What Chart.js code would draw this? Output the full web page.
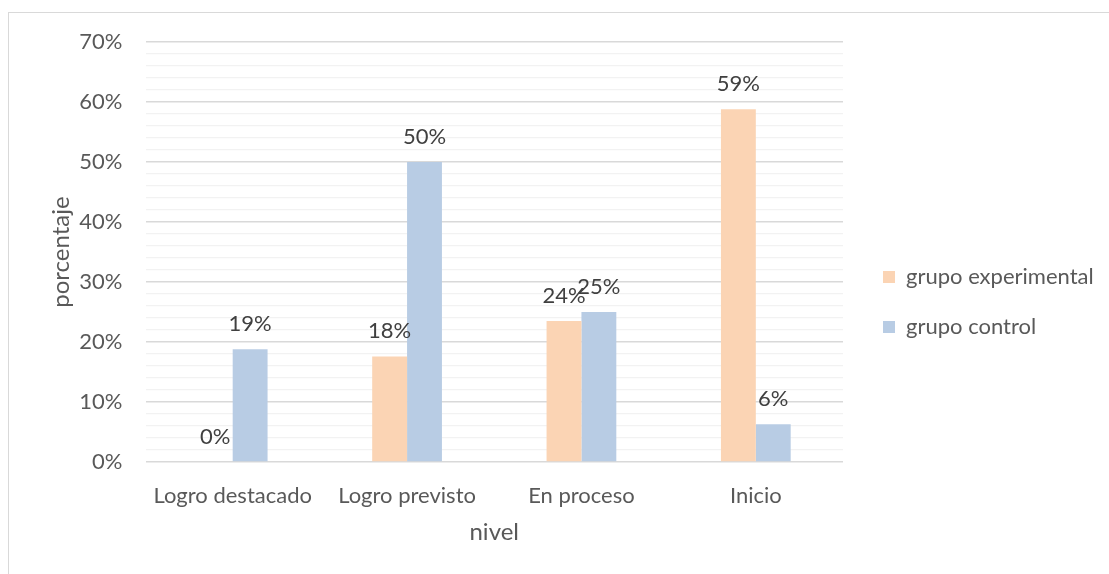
<!DOCTYPE html>
<html lang="es">
<head>
  <meta charset="UTF-8" />
  <title>Nivel por grupo</title>
  <script src="https://cdn.jsdelivr.net/npm/chart.js"></script>
  <style>
    body {
      margin: 0;
      background: #fff;
    }
    #wrap {
      position: relative;
      width: 1109px;
      height: 574px;
      overflow: hidden;
    }
    #frame {
      position: absolute;
      left: 8px;
      top: 12px;
      width: 1300px;
      height: 800px;
      border: 1px solid #d9d9d9;
    }
    canvas {
      position: absolute;
      left: 0;
      top: 0;
    }
  </style>
</head>
<body>
  <div id="wrap">
    <div id="frame"></div>
    <canvas id="chart" width="1109" height="574"></canvas>
  </div>

  <script>
    // categorias y valores (%)
    const niveles = ["Logro destacado", "Logro previsto", "En proceso", "Inicio"];
    const grupoExperimental = [0, 17.6, 23.5, 58.8];
    const grupoControl = [18.8, 50, 25, 6.3];
    const ticksY = [0, 10, 20, 30, 40, 50, 60, 70];

    const FONT = "Lato";

    // etiquetas de valor encima de cada barra
    const etiquetasValor = {
      id: "etiquetasValor",
      afterDatasetsDraw(chart) {
        const ctx = chart.ctx;
        ctx.save();
        ctx.font = "22px " + FONT;
        ctx.fillStyle = "#404040";
        ctx.textAlign = "center";
        ctx.textBaseline = "middle";
        chart.data.datasets.forEach((ds, i) => {
          chart.getDatasetMeta(i).data.forEach((bar, j) => {
            ctx.fillText(Math.round(ds.data[j]) + "%", bar.x, bar.y - 25);
          });
        });
        ctx.restore();
      }
    };

    // leyenda a la derecha con ancho fijo, un poco desplazada
    const leyendaFija = {
      id: "leyendaFija",
      beforeLayout(chart) {
        const lg = chart.legend;
        if (lg && !lg._fijo) {
          const fit = lg.fit;
          lg.fit = function () {
            fit.call(this);
            this.width = 266;
          };
          lg._fijo = true;
        }
      },
      afterLayout(chart) {
        const lg = chart.legend;
        lg.left += 12;
        lg.right += 12;
        lg.top -= 6;
        lg.bottom -= 6;
      }
    };

    new Chart(document.getElementById("chart"), {
      type: "bar",
      data: {
        labels: niveles,
        datasets: [
          {
            label: "grupo experimental",
            data: grupoExperimental,
            backgroundColor: "#FBD4B4",
            borderWidth: 0
          },
          {
            label: "grupo control",
            data: grupoControl,
            backgroundColor: "#B8CCE4",
            borderWidth: 0
          }
        ]
      },
      options: {
        responsive: false,
        animation: false,
        layout: { padding: { top: 42, left: 0, right: 0, bottom: 0 } },
        datasets: {
          bar: { categoryPercentage: 0.4, barPercentage: 1 }
        },
        scales: {
          x: {
            grid: { display: false },
            border: { display: false },
            ticks: {
              color: "#595959",
              font: { family: FONT, size: 22 },
              padding: 13,
              maxRotation: 0
            },
            title: {
              display: true,
              text: "nivel",
              color: "#595959",
              font: { family: FONT, size: 24 },
              padding: { top: 0, bottom: 27 }
            },
            afterFit(scale) {
              scale.height = 112;
            }
          },
          y: {
            min: 0,
            max: 70,
            border: { display: false },
            grid: {
              drawTicks: false,
              color: c => (ticksY.includes(c.tick.value) ? "#d9d9d9" : "#f2f2f2"),
              lineWidth: c => (ticksY.includes(c.tick.value) ? 1.5 : 1.2)
            },
            ticks: {
              stepSize: 2,
              autoSkip: false,
              color: "#595959",
              font: { family: FONT, size: 22 },
              padding: 23,
              callback: v => (ticksY.includes(v) ? v + "%" : "")
            },
            title: {
              display: true,
              text: "porcentaje",
              color: "#595959",
              font: { family: FONT, size: 24 },
              padding: { top: 47, bottom: 0 }
            },
            afterFit(scale) {
              scale.width = 145.5;
            }
          }
        },
        plugins: {
          legend: {
            position: "right",
            labels: {
              color: "#595959",
              font: { family: FONT, size: 22 },
              boxWidth: 12,
              boxHeight: 12,
              padding: 28
            }
          },
          tooltip: { enabled: false }
        }
      },
      plugins: [etiquetasValor, leyendaFija]
    });
  </script>
</body>
</html>
